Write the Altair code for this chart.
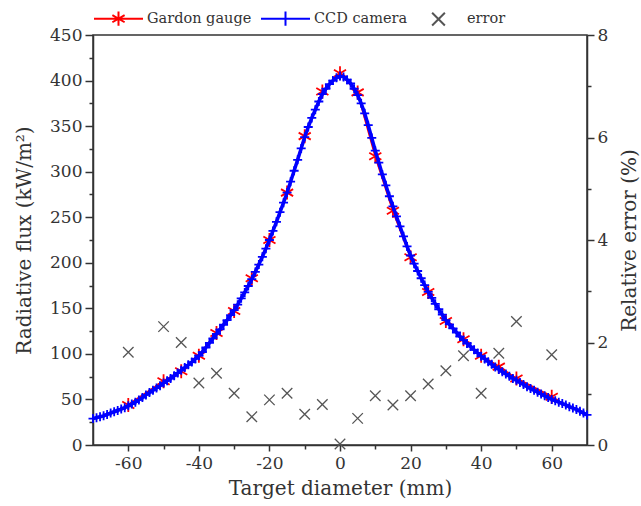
import altair as alt
import pandas as pd

# ---------------- data ----------------
# Gardon gauge measurements (mm, kW/m2)
gardon_x = [-60, -50, -45, -40, -35, -30, -25, -20, -15, -10, -5, 0,
            5, 10, 15, 20, 25, 30, 35, 40, 45, 50, 60]
gardon_flux = [44, 70, 81, 98, 123, 147, 183, 225, 277, 339, 388, 408,
               387, 317, 257, 206, 168, 136, 116, 98, 86, 73, 53]

# Relative error (%) at the Gardon gauge positions
error_x = gardon_x
error_pct = [1.81, 2.31, 2.00, 1.21, 1.40, 1.01, 0.55, 0.88, 1.01, 0.60, 0.79, 0.02,
             0.52, 0.96, 0.78, 0.96, 1.19, 1.45, 1.74, 1.01, 1.79, 2.41, 1.76]

# CCD camera profile (1 mm steps from -70 to 70 mm)
ccd_x = list(range(-70, 71))
ccd_flux = [
    29, 30, 31, 32, 33.5, 35, 36.5, 38, 39.5, 41,
    43, 45, 47, 49.5, 52, 55, 57.5, 60, 62.5, 65,
    68, 70.5, 73, 76, 79, 82, 85, 88, 91, 94.5,
    98, 102, 107, 112, 117, 122, 127, 132, 137, 142.5,
    148, 154, 161, 167.5, 174.5, 182, 190, 198, 206.5, 215.5,
    225, 235, 245, 255.5, 266, 277, 289, 301, 313, 325.5,
    338, 349, 359, 368, 377, 385, 391, 396, 400, 403,
    405,
    404, 401, 397, 391, 384, 375, 364, 351, 337, 323,
    310, 297, 285, 273, 262, 251, 240, 229, 218, 208,
    199, 191, 183, 175.5, 168, 161.5, 155, 149, 143, 137,
    132.5, 128, 123.5, 119, 115, 111.5, 108, 104.5, 101, 97.5,
    94.5, 91.5, 88.5, 85.5, 83, 80.5, 78, 75.5, 73, 71,
    68.5, 66.5, 64, 62, 60, 58, 56, 54, 52, 50,
    48.5, 47, 45.5, 44, 42, 40.5, 39, 37, 35, 33,
]

legend_names = ["Gardon gauge", "CCD camera", "error"]
legend_colors = ["#ff0000", "#0000ff", "#555555"]

gardon_df = pd.DataFrame({"x": gardon_x, "flux": gardon_flux})
ccd_df = pd.DataFrame({"x": ccd_x, "flux": ccd_flux})
err_df = pd.DataFrame({"x": error_x, "err": error_pct})
leg_df = pd.DataFrame({"series": legend_names})

FONT = "DejaVu Serif"
AX = "#333333"

ASTERISK = "M0,-1L0,1M-0.866,-0.5L0.866,0.5M-0.866,0.5L0.866,-0.5"
PLUS = "M-1,0L1,0M0,-1L0,1"
XMARK = "M-1,-1L1,1M-1,1L1,-1"

leg_shapes = [
    "M-1,0L1,0M0,-0.29L0,0.29M-0.25,-0.145L0.25,0.145M-0.25,0.145L0.25,-0.145",
    "M-1,0L1,0M0,-0.29L0,0.29",
    "M-0.26,-0.26L0.26,0.26M-0.26,0.26L0.26,-0.26",
]

xscale = alt.Scale(domain=[-70, 70], nice=False, zero=False)
yscale = alt.Scale(domain=[0, 450], nice=False)
escale = alt.Scale(domain=[0, 8], nice=False)

x_axis = alt.Axis(
    title="Target diameter (mm)",
    values=[-60, -50, -40, -30, -20, -10, 0, 10, 20, 30, 40, 50, 60],
    labelExpr="datum.value % 20 === 0 ? '' + datum.value : ''",
    tickSize={"condition": {"test": "datum.value % 20 === 0", "value": 6}, "value": 4},
    labelPadding=4,
    titlePadding=7,
)
y_axis = alt.Axis(
    title="Radiative flux (kW/m²)",
    values=list(range(0, 451, 25)),
    labelExpr="datum.value % 50 === 0 ? '' + datum.value : ''",
    tickSize={"condition": {"test": "datum.value % 50 === 0", "value": 8}, "value": 4},
    labelPadding=3,
    titlePadding=15,
)
e_axis = alt.Axis(
    title="Relative error (%)",
    orient="right",
    values=[0, 1, 2, 3, 4, 5, 6, 7, 8],
    labelExpr="datum.value % 2 === 0 ? '' + datum.value : ''",
    tickSize={"condition": {"test": "datum.value % 2 === 0", "value": 7}, "value": 4},
    labelPadding=3,
    titleAngle=270,
    titleBaseline="top",
    titlePadding=12,
)

X = alt.X("x:Q", scale=xscale, axis=x_axis)
Y = alt.Y("flux:Q", scale=yscale, axis=y_axis)

gardon_line = alt.Chart(gardon_df).mark_line(color="#ff0000", strokeWidth=2).encode(x=X, y=Y)
gardon_pts = alt.Chart(gardon_df).mark_point(
    shape=ASTERISK, filled=False, stroke="#ff0000", strokeWidth=1.8, size=196, opacity=1
).encode(x=X, y=Y)
ccd_line = alt.Chart(ccd_df).mark_line(color="#0000ff", strokeWidth=3.5).encode(x=X, y=Y)
ccd_pts = alt.Chart(ccd_df).mark_point(
    shape=PLUS, filled=False, stroke="#0000ff", strokeWidth=1.8, size=81, opacity=1
).encode(x=X, y=Y)

leg_common = alt.Legend(
    title=None,
    orient="none",
    legendX=0,
    legendY=-42,
    direction="horizontal",
    labelFont=FONT,
    labelFontSize=14.5,
    labelColor=AX,
    symbolSize=2401,
    symbolStrokeWidth=2,
    labelOffset=3,
    columnPadding=5,
)
legend_layer = alt.Chart(leg_df).mark_point(filled=False, clip=True, opacity=1).encode(
    x=alt.value(-500),
    y=alt.value(-500),
    color=alt.Color("series:N", scale=alt.Scale(domain=legend_names, range=legend_colors), legend=leg_common),
    shape=alt.Shape("series:N", scale=alt.Scale(domain=legend_names, range=leg_shapes), legend=leg_common),
)

flux_layer = alt.layer(gardon_line, gardon_pts, ccd_line, ccd_pts, legend_layer)

err_layer = alt.Chart(err_df).mark_point(
    shape=XMARK, filled=False, stroke="#555555", strokeWidth=1.3, size=110, opacity=1
).encode(
    x=X,
    y=alt.Y("err:Q", scale=escale, axis=e_axis),
)

chart = (
    alt.layer(flux_layer, err_layer)
    .resolve_scale(y="independent")
    .properties(
        width=494,
        height=410,
        autosize=alt.AutoSizeParams(type="none"),
        padding={"left": 93, "top": 35, "right": 54, "bottom": 61},
        background="white",
    )
    .configure_view(stroke=AX, strokeWidth=1.5)
    .configure_axis(
        grid=False,
        domainColor=AX,
        domainWidth=1.5,
        tickColor=AX,
        tickWidth=1.5,
        labelFont=FONT,
        labelFontSize=17,
        labelColor=AX,
        titleFont=FONT,
        titleFontSize=20,
        titleFontWeight="normal",
        titleColor=AX,
    )
)

chart.save("out.html", embed_options={"renderer": "svg", "actions": False})
